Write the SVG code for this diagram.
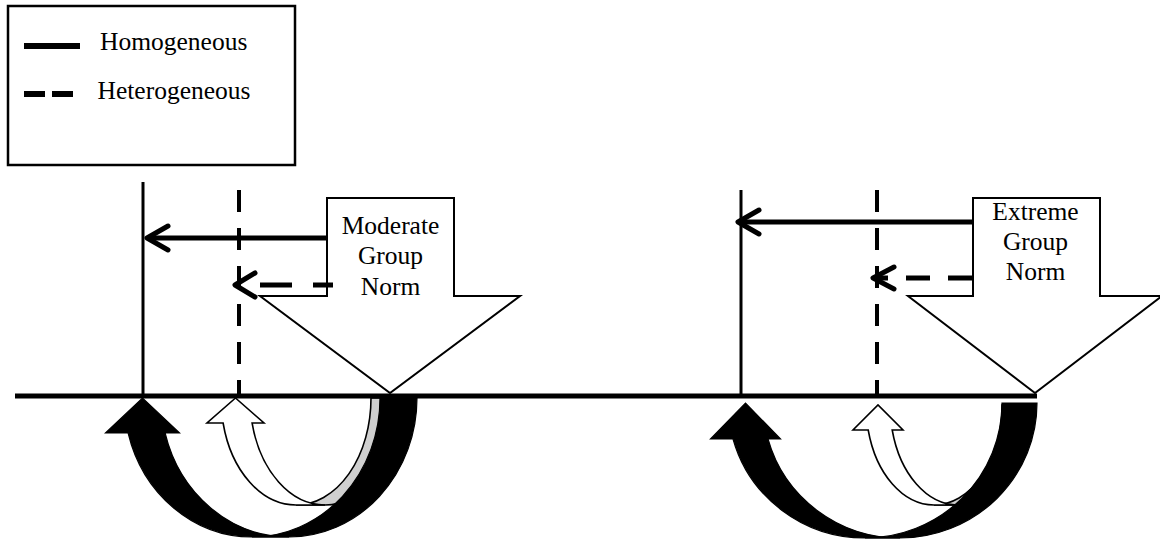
<svg xmlns="http://www.w3.org/2000/svg" width="1160" height="543" viewBox="0 0 1160 543">
<style>
  .txt { font-family: "Liberation Serif", "Times New Roman", serif; font-size: 25.5px; fill: #000; }
  .block { fill: #fff; stroke: #000; stroke-width: 2; stroke-linejoin: miter; }
  .solid { fill: none; stroke: #000; stroke-width: 5; }
  .dash { fill: none; stroke: #000; stroke-width: 5; }
  .vsolid { fill: none; stroke: #000; stroke-width: 3; }
  .vdash { fill: none; stroke: #000; stroke-width: 4; stroke-dasharray: 22 16; }
  .chev { fill: none; stroke: #000; stroke-width: 5; stroke-linecap: round; stroke-linejoin: round; }
  .blk { fill: #000; stroke: #000; stroke-width: 1.2; stroke-linejoin: miter; }
  .wht { fill: #fff; stroke: #000; stroke-width: 1.6; stroke-linejoin: miter; }
  .gry { fill: #d0d0d0; stroke: #000; stroke-width: 1.6; stroke-linejoin: miter; }
</style>

<g id="legend">
  <rect x="8" y="6" width="287" height="159" fill="#fff" stroke="#000" stroke-width="2.5"/>
  <line x1="24" y1="46" x2="80" y2="46" stroke="#000" stroke-width="6"/>
  <line x1="24" y1="94" x2="80" y2="94" stroke="#000" stroke-width="6" stroke-dasharray="21 7"/>
  <text class="txt" x="100" y="50">Homogeneous</text>
  <text class="txt" x="97.5" y="99">Heterogeneous</text>
</g>

<g id="node-moderate-norm">
  <path class="block" d="M327 198 L454 198 L454 296 L520 296 L390 393 L260 296 L327 296 Z"/>
  <text class="txt" text-anchor="middle" x="390.5" y="234">Moderate</text>
  <text class="txt" text-anchor="middle" x="390.5" y="264">Group</text>
  <text class="txt" text-anchor="middle" x="390.5" y="295">Norm</text>
</g>

<g id="node-extreme-norm">
  <path class="block" d="M973 198 L1100 198 L1100 296 L1162 296 L1035 393 L908 296 L973 296 Z"/>
  <text class="txt" text-anchor="middle" x="1035.5" y="220">Extreme</text>
  <text class="txt" text-anchor="middle" x="1035.5" y="250">Group</text>
  <text class="txt" text-anchor="middle" x="1035.5" y="280">Norm</text>
</g>

<g id="moderate-curves">
  <path class="gry" d="M325 505 A75 107 0 0 0 400 398 L371 398 A75 107 0 0 1 296 505 Z"/>
  <path class="wht" d="M296 505 A75 107 0 0 1 223.1 423 L207 423 L235.5 398 L264 423 L252.1 423 A75 107 0 0 0 325 505 Z"/>
  <path class="blk" d="M289 537 A128 139 0 0 0 417 398 L380 398 A128 139 0 0 1 252 537 Z"/>
  <path class="blk" d="M252 537 A128 139 0 0 1 128.1 433 L105.5 433 L142.5 398 L179.5 433 L165.1 433 A128 139 0 0 0 289 537 Z"/>
</g>

<g id="extreme-curves">
  <path class="gry" d="M958 505 A68 100 0 0 0 1026 405 L1002 405 A68 100 0 0 1 934 505 Z"/>
  <path class="wht" d="M934 505 A68 100 0 0 1 868.2 430 L853 430 L878 405 L903 430 L892.2 430 A68 100 0 0 0 958 505 Z"/>
  <path class="blk" d="M900 538 A137 135 0 0 0 1037 403 L1002 403 A137 135 0 0 1 865 538 Z"/>
  <path class="blk" d="M865 538 A137 135 0 0 1 733 439 L710.5 439 L745.5 403 L780.5 439 L768 439 A137 135 0 0 0 900 538 Z"/>
</g>

<g id="connectors">
  <line x1="15" y1="396" x2="1037" y2="396" stroke="#000" stroke-width="5"/>
  <line class="vsolid" x1="143" y1="182" x2="143" y2="396"/>
  <line class="vdash" x1="239" y1="190" x2="239" y2="396"/>
  <line class="vsolid" x1="741" y1="190" x2="741" y2="396"/>
  <line class="vdash" x1="877" y1="190" x2="877" y2="396"/>
  <line class="solid" x1="148" y1="238" x2="327" y2="238"/>
  <polyline class="chev" points="168,226 147,238 168,250"/>
  <line class="dash" x1="333" y1="285" x2="237" y2="285" stroke-dasharray="32 21" stroke-dashoffset="12"/>
  <polyline class="chev" points="255,273 235,285 255,297"/>
  <line class="solid" x1="739" y1="222" x2="973" y2="222"/>
  <polyline class="chev" points="759,210 738,222 759,234"/>
  <line class="dash" x1="972" y1="278" x2="874" y2="278" stroke-dasharray="24 18"/>
  <polyline class="chev" points="894,267 873,278 894,289"/>
</g>
</svg>
